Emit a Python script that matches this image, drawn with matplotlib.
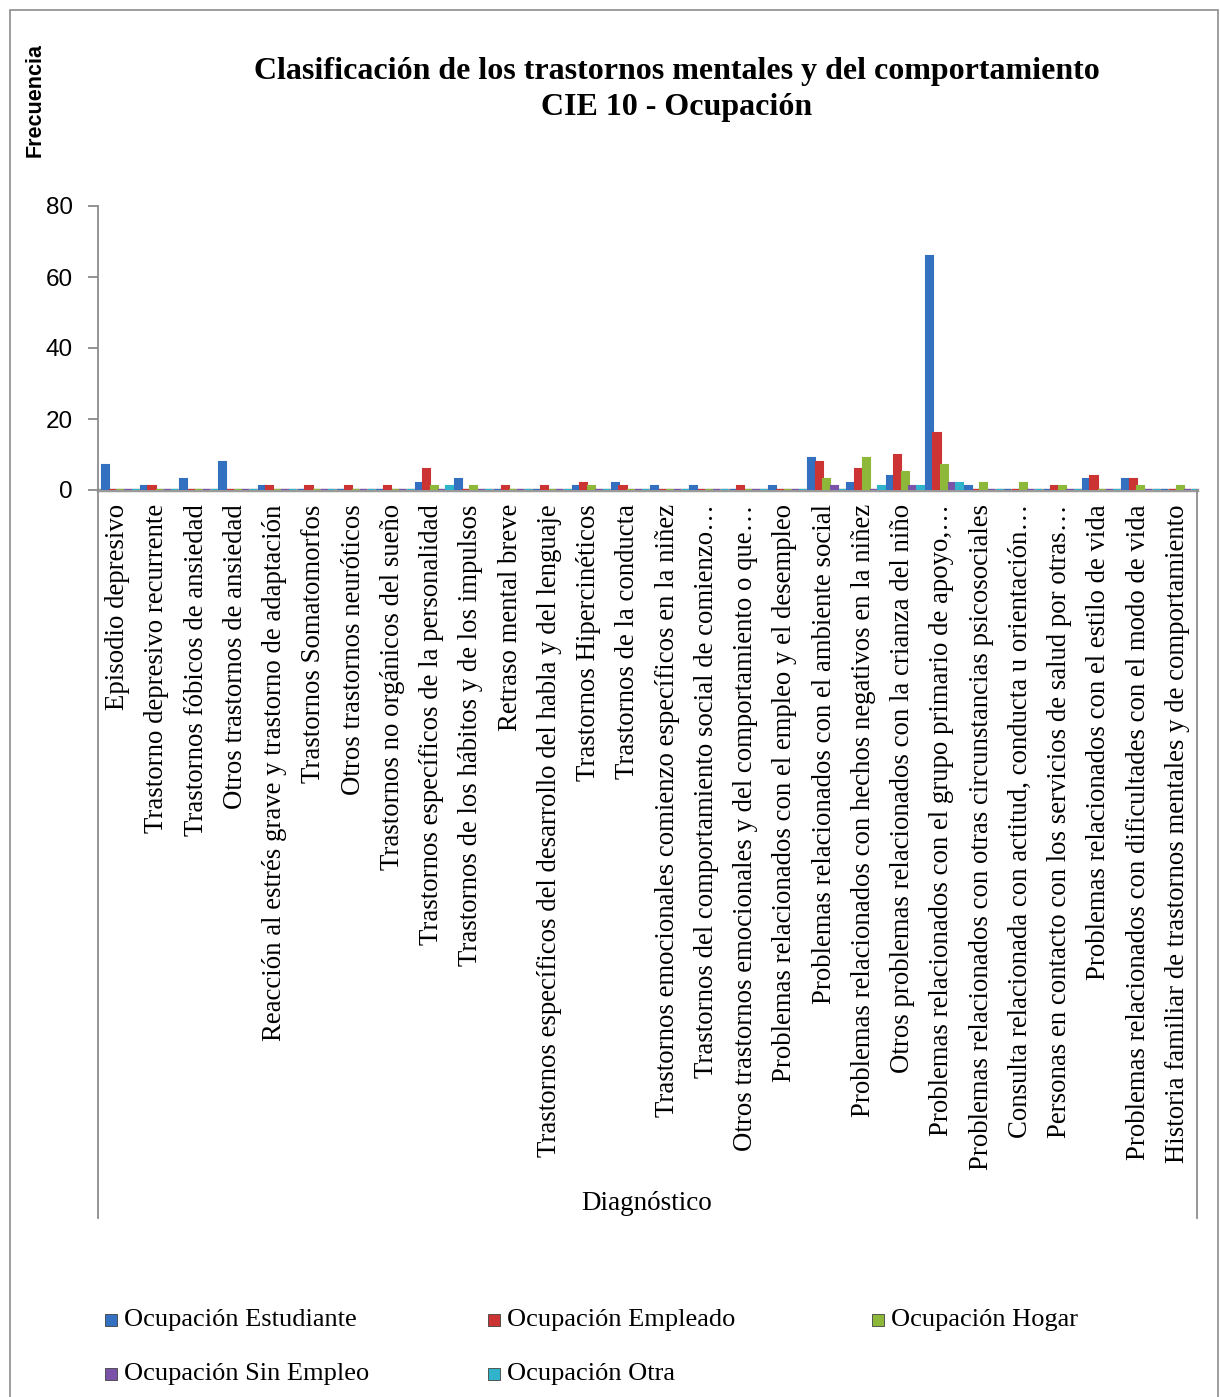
import matplotlib
matplotlib.use("Agg")
import matplotlib.pyplot as plt
from matplotlib.patches import Rectangle
from matplotlib.lines import Line2D
import numpy as np

# Diagnostic categories (x axis)
categorias = [
    "Episodio depresivo",
    "Trastorno depresivo recurrente",
    "Trastornos fóbicos de ansiedad",
    "Otros trastornos de ansiedad",
    "Reacción al estrés grave y trastorno de adaptación",
    "Trastornos Somatomorfos",
    "Otros trastornos neuróticos",
    "Trastornos no orgánicos del sueño",
    "Trastornos específicos de la personalidad",
    "Trastornos de los hábitos y de los impulsos",
    "Retraso mental breve",
    "Trastornos específicos del desarrollo del habla y del lenguaje",
    "Trastornos Hipercinéticos",
    "Trastornos de la conducta",
    "Trastornos emocionales comienzo específicos en la niñez",
    "Trastornos del comportamiento social de comienzo…",
    "Otros trastornos emocionales y del comportamiento o que…",
    "Problemas relacionados con el empleo y el desempleo",
    "Problemas relacionados con el ambiente social",
    "Problemas relacionados con hechos negativos en la niñez",
    "Otros problemas relacionados con la crianza del niño",
    "Problemas relacionados con el grupo primario de apoyo,…",
    "Problemas relacionados con otras circunstancias psicosociales",
    "Consulta relacionada con actitud, conducta u orientación…",
    "Personas en contacto con los servicios de salud por otras…",
    "Problemas relacionados con el estilo de vida",
    "Problemas relacionados con dificultades con el modo de vida",
    "Historia familiar de trastornos mentales y de comportamiento",
]

# Frequencies per occupation
estudiante = [7, 1, 3, 8, 1, 0, 0, 0, 2, 3, 0, 0, 1, 2, 1, 1, 0, 1, 9, 2, 4, 66, 1, 0, 0, 3, 3, 0]
empleado   = [0, 1, 0, 0, 1, 1, 1, 1, 6, 0, 1, 1, 2, 1, 0, 0, 1, 0, 8, 6, 10, 16, 0, 0, 1, 4, 3, 0]
hogar      = [0, 0, 0, 0, 0, 0, 0, 0, 1, 1, 0, 0, 1, 0, 0, 0, 0, 0, 3, 9, 5, 7, 2, 2, 1, 0, 1, 1]
sin_empleo = [0, 0, 0, 0, 0, 0, 0, 0, 0, 0, 0, 0, 0, 0, 0, 0, 0, 0, 1, 0, 1, 2, 0, 0, 0, 0, 0, 0]
otra       = [0, 0, 0, 0, 0, 0, 0, 0, 1, 0, 0, 0, 0, 0, 0, 0, 0, 0, 0, 1, 1, 2, 0, 0, 0, 0, 0, 0]

series = [estudiante, empleado, hogar, sin_empleo, otra]
nombres = ["Ocupación Estudiante", "Ocupación Empleado", "Ocupación Hogar",
           "Ocupación Sin Empleo", "Ocupación Otra"]
colores = ["#3370c0", "#cc3333", "#8db83a", "#7a52a8", "#30b4cc"]

W, H = 1220, 1397
fig = plt.figure(figsize=(W / 100, H / 100), dpi=100)

serif = "Liberation Serif"
sans = "Liberation Sans"

def fx(px):
    return px / W

def fy(py):
    return 1 - py / H

# outer frame
fig.patches.append(Rectangle((fx(10), -0.01), fx(1218) - fx(10), fy(10) + 0.01,
                             transform=fig.transFigure, fill=False,
                             edgecolor="#8c8c8c", linewidth=1.2))

ax = fig.add_axes([fx(98), fy(490), fx(1197) - fx(98), fy(206) - fy(490)])

x = np.arange(len(categorias))
ancho = 0.18
for j, (vals, nombre, col) in enumerate(zip(series, nombres, colores)):
    ax.bar(x - 0.32 + 0.195 * j, vals, ancho, color=col, edgecolor=col,
           linewidth=1.5, label=nombre, zorder=3)

ax.set_xlim(-0.5, len(categorias) - 0.5)
ax.set_ylim(0, 80)
ax.set_yticks([0, 20, 40, 60, 80])
ax.tick_params(axis="y", labelsize=17.5, length=7, width=1.2, color="#808080", pad=11)
for lab in ax.get_yticklabels():
    lab.set_fontfamily(sans)
ax.set_xticks([])
for s in ["top", "right"]:
    ax.spines[s].set_visible(False)
ax.spines["left"].set_color("#8c8c8c")
ax.spines["left"].set_linewidth(1.3)
ax.spines["bottom"].set_color("#9a9a9a")
ax.spines["bottom"].set_linewidth(2.5)
ax.spines["bottom"].set_zorder(2)

# category labels
for i, c in enumerate(categorias):
    ax.text(i, -4, c, rotation=90, ha="center", va="top", fontsize=19.3,
            family=serif, transform=ax.transData, clip_on=False)

# extended side walls
fig.lines.append(Line2D([fx(98), fx(98)], [fy(490), fy(1218)], transform=fig.transFigure,
                        color="#8c8c8c", linewidth=1.3))
fig.lines.append(Line2D([fx(1197), fx(1197)], [fy(490), fy(1218)], transform=fig.transFigure,
                        color="#8c8c8c", linewidth=1.3))

fig.text(fx(647), fy(1203), "Diagnóstico", ha="center", va="center",
         fontsize=19.5, family=serif)

fig.text(fx(677), fy(72), "Clasificación de los trastornos mentales y del comportamiento",
         ha="center", va="center", fontsize=23, fontweight="bold", family=serif)
fig.text(fx(677), fy(107), "CIE 10 - Ocupación",
         ha="center", va="center", fontsize=23, fontweight="bold", family=serif)

fig.text(fx(35), fy(100), "Frecuencia", rotation=90, ha="center", va="center",
         fontsize=15.5, fontweight="bold", family=sans)

# legend entries
posiciones = [(105, 1320), (488, 1320), (872, 1320), (105, 1374), (488, 1374)]
for (px, py), nombre, col in zip(posiciones, nombres, colores):
    fig.patches.append(Rectangle((fx(px), fy(py + 6)), fx(12), 12 / H,
                                 transform=fig.transFigure, facecolor=col,
                                 edgecolor="#404040", linewidth=0.6))
    fig.text(fx(px + 19), fy(py), nombre, ha="left", va="center",
             fontsize=19, family=serif)

fig.savefig("out.png", dpi=100)
